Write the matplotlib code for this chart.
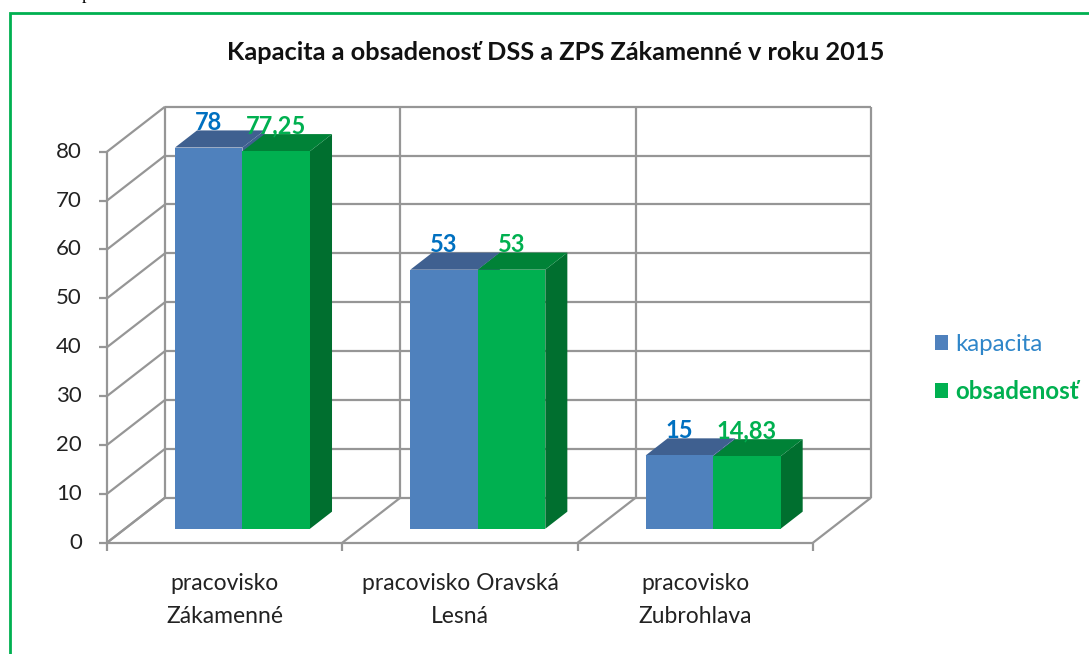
import matplotlib
matplotlib.use("Agg")
import matplotlib.pyplot as plt
from matplotlib.patches import Patch, Polygon

## chart values
categories = ["pracovisko\nZákamenné", "pracovisko Oravská\nLesná", "pracovisko\nZubrohlava"]
kapacita = [78, 53, 15]
obsadenost = [77.25, 53, 14.83]
kapacita_labels = ["78", "53", "15"]
obsadenost_labels = ["77,25", "53", "14,83"]
y_ticks = [0, 10, 20, 30, 40, 50, 60, 70, 80]

W, H = 1089, 654
plt.rcParams["font.family"] = ["Lato", "DejaVu Sans"]

## pixel geometry of the fake 3D box
X0, X3 = 107, 813      # front axis, category 0 and 3
Y0, Y80 = 542.7, 151.7 # front axis, value 0 and 80
PX_CAT = (X3 - X0) / 3
PX_VAL = (Y0 - Y80) / 80
DEPTH_X = 58 / PX_CAT
DEPTH_Y = 45 / PX_VAL

GRID = "#969696"
BLUE, BLUE_TOP = "#4F81BD", "#3F6090"
GREEN, GREEN_TOP, GREEN_SIDE = "#00B050", "#008237", "#006F2F"
BLUE_TEXT = "#0070C0"

fig = plt.figure(figsize=(W / 100, H / 100), dpi=100)
ax = fig.add_axes([0, 0, 1, 1])
## data units on the axes are categories / values, axes fills the figure
ax.set_xlim(-X0 / PX_CAT, (W - X0) / PX_CAT)
ax.set_ylim((Y0 - H) / PX_VAL, Y0 / PX_VAL)
ax.axis("off")


def pt(x, v, d=0.0):
    return (x + d * DEPTH_X, v + d * DEPTH_Y)


def gridline(a, b):
    ax.plot([a[0], b[0]], [a[1], b[1]], color=GRID, lw=1.6, solid_capstyle="butt", zorder=1)


def bar3d(x, w, v, front, top, side):
    d0, d1 = 0.31, 0.69
    ax.add_patch(Polygon([pt(x + w, 0, d0), pt(x + w, 0, d1), pt(x + w, v, d1), pt(x + w, v, d0)],
                         facecolor=side, lw=0, zorder=3))
    ax.add_patch(Polygon([pt(x, v, d0), pt(x + w, v, d0), pt(x + w, v, d1), pt(x, v, d1)],
                         facecolor=top, lw=0, zorder=3))
    ax.add_patch(Polygon([pt(x, 0, d0), pt(x + w, 0, d0), pt(x + w, v, d0), pt(x, v, d0)],
                         facecolor=front, lw=0, zorder=3))


## box: back wall, left wall, floor
tick_v = 8 / PX_VAL
tick_c = 8 / PX_CAT
for v in y_ticks:
    gridline(pt(0, v, 1), pt(3, v, 1))
    gridline(pt(0, v, 0), pt(0, v, 1))
    gridline(pt(-tick_c, v), pt(0, v))
    ax.text(-25 / PX_CAT, v, str(v), ha="right", va="center", fontsize=16, color="#222222")
for i in range(4):
    gridline(pt(i, 0, 0), pt(i, 0, 1))
    gridline(pt(i, 0, 1), pt(i, 80, 1))
    gridline(pt(i, 0), pt(i, -tick_v))
gridline(pt(0, 0), pt(3, 0))
gridline(pt(0, 0), pt(0, 80))

## bars
gap, bw = 0.2125, 0.2868
label_up = 25 / PX_VAL
for i in range(len(categories)):
    xb = i + gap
    bar3d(xb, bw, kapacita[i], BLUE, BLUE_TOP, BLUE_TOP)
    bar3d(xb + bw, bw, obsadenost[i], GREEN, GREEN_TOP, GREEN_SIDE)
    cx, cy = pt(xb + bw / 2, kapacita[i] + label_up, 0.31)
    ax.text(cx, cy, kapacita_labels[i], ha="center", va="center", fontsize=17,
            fontweight="bold", color=BLUE_TEXT, zorder=5)
    cx, cy = pt(xb + 1.5 * bw, obsadenost[i] + label_up, 0.31)
    ax.text(cx, cy, obsadenost_labels[i], ha="center", va="center", fontsize=17,
            fontweight="bold", color=GREEN, zorder=5)
    ax.text(i + 0.5, (Y0 - 600) / PX_VAL, categories[i], ha="center", va="center",
            fontsize=16.5, linespacing=1.67, color="#222222")

## title, using axes pixels for page furniture
ax.text(556 / W, 1 - 52 / H, "Kapacita a obsadenosť DSS a ZPS Zákamenné v roku 2015",
        transform=ax.transAxes, ha="center", va="center", fontsize=18.3, fontweight="bold", color="#111111")

leg = ax.legend(handles=[Patch(facecolor=BLUE, label="kapacita"), Patch(facecolor=GREEN, label="obsadenosť")],
                loc="center left", bbox_to_anchor=(927.5 / W, 1 - 368.5 / H), frameon=False, fontsize=17.3,
                handlelength=0.55, handleheight=0.55, handletextpad=0.3, labelspacing=1.05,
                borderpad=0, borderaxespad=0.3)
for txt, col in zip(leg.get_texts(), ["#2F86C9", GREEN]):
    txt.set_color(col)
leg.get_texts()[1].set_fontweight("bold")

## green page frame: top and left only, and the cut off text line above it
ax.plot([9.5 / W, 9.5 / W, 1], [0, 1 - 12.5 / H, 1 - 12.5 / H], transform=ax.transAxes,
        color="#00B050", lw=2, solid_joinstyle="miter", zorder=6)
ax.text(86.5 / W, 1 + 1 / H, "p", transform=ax.transAxes, ha="center", va="baseline",
        family="Liberation Serif", fontsize=13, color="black", clip_on=False)

fig.savefig("out.png", dpi=100)
